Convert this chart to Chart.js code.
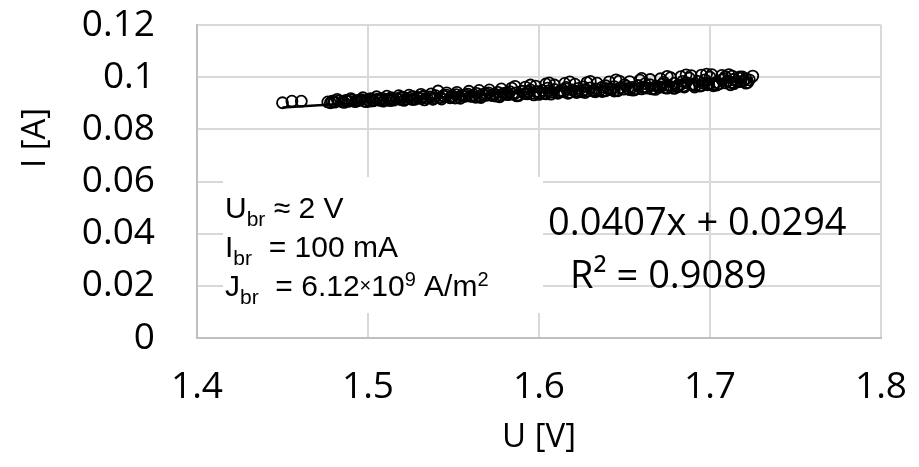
<!DOCTYPE html>
<html>
<head>
<meta charset="utf-8">
<script src="https://cdn.jsdelivr.net/npm/chart.js@4/dist/chart.umd.min.js"></script>
<style>
  html, body { margin: 0; padding: 0; background: #fff; }
  #wrap { width: 919px; height: 467px; }
</style>
</head>
<body>
<div id="wrap"><canvas id="chart" width="919" height="467"></canvas></div>
<script>
// measured points, U [V]
const voltage = [
  1.4500, 1.4555, 1.4610, 1.4765, 1.4790, 1.4805, 1.4830, 1.4850, 1.4870, 1.4885,
  1.4905, 1.4925, 1.4940, 1.4960, 1.4980, 1.5000, 1.5015, 1.5030, 1.5050, 1.5070,
  1.5085, 1.5100, 1.5120, 1.5135, 1.5150, 1.5170, 1.5190, 1.5205, 1.5225, 1.5240,
  1.5260, 1.5275, 1.5290, 1.5310, 1.5325, 1.5345, 1.5360, 1.5380, 1.5395, 1.5410,
  1.5425, 1.5445, 1.5460, 1.5480, 1.5495, 1.5515, 1.5530, 1.5550, 1.5565, 1.5585,
  1.5600, 1.5620, 1.5635, 1.5655, 1.5670, 1.5690, 1.5705, 1.5725, 1.5740, 1.5760,
  1.5775, 1.5795, 1.5810, 1.5830, 1.5845, 1.5865, 1.5880, 1.5900, 1.5915, 1.5935,
  1.5950, 1.5970, 1.5985, 1.6005, 1.6020, 1.6040, 1.6055, 1.6075, 1.6090, 1.6110,
  1.6125, 1.6145, 1.6160, 1.6180, 1.6195, 1.6215, 1.6230, 1.6250, 1.6265, 1.6285,
  1.6300, 1.6320, 1.6335, 1.6355, 1.6370, 1.6390, 1.6405, 1.6425, 1.6440, 1.6460,
  1.6475, 1.6495, 1.6510, 1.6530, 1.6545, 1.6565, 1.6580, 1.6600, 1.6615, 1.6635,
  1.6650, 1.6670, 1.6685, 1.6705, 1.6720, 1.6740, 1.6755, 1.6775, 1.6790, 1.6810,
  1.6825, 1.6845, 1.6860, 1.6880, 1.6895, 1.6915, 1.6930, 1.6950, 1.6965, 1.6985,
  1.7000, 1.7020, 1.7035, 1.7055, 1.7070, 1.7090, 1.7105, 1.7125, 1.7140, 1.7160,
  1.7175, 1.7195, 1.7210, 1.7230, 1.7250,
  1.482, 1.490, 1.497, 1.505, 1.511, 1.518, 1.524, 1.531, 1.537, 1.546,
  1.552, 1.559, 1.565, 1.571, 1.578, 1.584, 1.592, 1.598, 1.604, 1.609,
  1.615, 1.621, 1.628, 1.634, 1.641, 1.647, 1.653, 1.659, 1.665, 1.671,
  1.677, 1.683, 1.689, 1.695, 1.701, 1.707, 1.713, 1.719,
  1.478, 1.486, 1.493, 1.499, 1.503, 1.509, 1.514, 1.521, 1.527, 1.533,
  1.539, 1.543, 1.549, 1.554, 1.561, 1.566, 1.573, 1.577, 1.582, 1.587,
  1.593, 1.597, 1.603, 1.607, 1.612, 1.617, 1.623, 1.627, 1.632, 1.637,
  1.642, 1.646, 1.652, 1.656, 1.661, 1.666, 1.671, 1.675, 1.681, 1.685,
  1.690, 1.694, 1.699, 1.704, 1.709, 1.714, 1.718, 1.722,
  1.586, 1.595, 1.606, 1.618, 1.630, 1.645, 1.660, 1.675, 1.686, 1.698, 1.711,
  1.480, 1.488, 1.495, 1.501, 1.507, 1.513, 1.519, 1.526, 1.532, 1.538,
  1.544, 1.551, 1.557, 1.563, 1.569, 1.575, 1.581, 1.588, 1.594, 1.600,
  1.605, 1.611, 1.616, 1.622, 1.626, 1.633, 1.639, 1.644, 1.650, 1.655,
  1.662, 1.668, 1.673, 1.679, 1.684, 1.691, 1.697, 1.702, 1.708, 1.712,
  1.717, 1.721
];
// measured points, I [A]
const current = [
  0.0902, 0.0908, 0.0908, 0.0905, 0.0908, 0.0904, 0.0909, 0.0906, 0.0911, 0.0907,
  0.0912, 0.0906, 0.0910, 0.0914, 0.0908, 0.0913, 0.0918, 0.0909, 0.0915, 0.0911,
  0.0919, 0.0913, 0.0916, 0.0921, 0.0912, 0.0918, 0.0914, 0.0923, 0.0916, 0.0920,
  0.0926, 0.0915, 0.0922, 0.0918, 0.0927, 0.0920, 0.0924, 0.0917, 0.0929, 0.0947,
  0.0922, 0.0927, 0.0931, 0.0921, 0.0928, 0.0933, 0.0924, 0.0930, 0.0926, 0.0935,
  0.0927, 0.0932, 0.0938, 0.0928, 0.0934, 0.0930, 0.0940, 0.0931, 0.0936, 0.0942,
  0.0932, 0.0938, 0.0934, 0.0944, 0.0935, 0.0940, 0.0929, 0.0946, 0.0937, 0.0942,
  0.0951, 0.0938, 0.0945, 0.0940, 0.0949, 0.0936, 0.0947, 0.0943, 0.0953, 0.0941,
  0.0948, 0.0944, 0.0955, 0.0942, 0.0951, 0.0946, 0.0957, 0.0944, 0.0952, 0.0948,
  0.0959, 0.0946, 0.0955, 0.0950, 0.0962, 0.0948, 0.0956, 0.0952, 0.0964, 0.0950,
  0.0959, 0.0954, 0.0966, 0.0952, 0.0961, 0.0956, 0.0968, 0.0955, 0.0963, 0.0958,
  0.0971, 0.0957, 0.0966, 0.0961, 0.0973, 0.0959, 0.0968, 0.0963, 0.0976, 0.0962,
  0.0970, 0.0966, 0.0979, 0.0996, 0.0973, 0.0968, 0.0984, 0.0967, 0.0976, 0.0971,
  0.1000, 0.0972, 0.0980, 0.0975, 0.0990, 0.1002, 0.0985, 0.0980, 0.0992, 0.0983,
  0.1001, 0.0985, 0.0994, 0.0990, 0.1004,
  0.0915, 0.0918, 0.0921, 0.0925, 0.0927, 0.0929, 0.0931, 0.0934, 0.0936, 0.0940,
  0.0942, 0.0946, 0.0949, 0.0951, 0.0955, 0.0958, 0.0962, 0.0966, 0.0974, 0.0970,
  0.0976, 0.0973, 0.0979, 0.0977, 0.0982, 0.0985, 0.0983, 0.0989, 0.0991, 0.0994,
  0.0998, 0.1002, 0.1006, 0.1008, 0.1010, 0.1007, 0.1004, 0.1001,
  0.0902, 0.0903, 0.0909, 0.0906, 0.0912, 0.0908, 0.0915, 0.0911, 0.0918, 0.0913,
  0.0921, 0.0916, 0.0924, 0.0919, 0.0926, 0.0922, 0.0929, 0.0925, 0.0933, 0.0928,
  0.0936, 0.0932, 0.0939, 0.0935, 0.0943, 0.0938, 0.0946, 0.0941, 0.0950, 0.0945,
  0.0953, 0.0948, 0.0957, 0.0952, 0.0960, 0.0955, 0.0963, 0.0958, 0.0967, 0.0962,
  0.0970, 0.0966, 0.0975, 0.0970, 0.0978, 0.0975, 0.0983, 0.0980,
  0.0965, 0.0970, 0.0978, 0.0982, 0.0984, 0.0990, 0.0995, 0.1003, 0.1009, 0.1012, 0.1010,
  0.0907, 0.0910, 0.0912, 0.0908, 0.0917, 0.0910, 0.0922, 0.0914, 0.0925, 0.0915,
  0.0929, 0.0920, 0.0932, 0.0923, 0.0937, 0.0927, 0.0941, 0.0932, 0.0945, 0.0934,
  0.0958, 0.0938, 0.0961, 0.0941, 0.0963, 0.0944, 0.0967, 0.0947, 0.0971, 0.0950,
  0.0975, 0.0953, 0.0980, 0.0957, 0.0984, 0.0962, 0.0990, 0.0967, 0.0994, 0.0971,
  0.0996, 0.0977
];
// linear trendline end points (0.0407x + 0.0294)
const trendU = [1.45, 1.725];
const trendI = [0.0884, 0.0996];

const xTicks = [1.4, 1.5, 1.6, 1.7, 1.8];
const yTicks = [0, 0.02, 0.04, 0.06, 0.08, 0.1, 0.12];

const TICK_FONT = "'Open Sans', sans-serif";
const NOTE_FONT = "'Liberation Sans', Arial, sans-serif";

// draws a run of text pieces: [text, size, dy]
function drawRuns(ctx, x, y, runs, family) {
  let cx = x;
  runs.forEach(([txt, size, dy]) => {
    ctx.font = size + 'px ' + family;
    ctx.fillText(txt, cx, y + dy);
    cx += ctx.measureText(txt).width;
  });
}

const notes = {
  id: 'notes',
  beforeDatasetsDraw(chart) {
    const ctx = chart.ctx;
    ctx.save();
    ctx.fillStyle = '#ffffff';
    ctx.fillRect(223, 177, 320, 136);
    ctx.restore();
  },
  afterDraw(chart) {
    const ctx = chart.ctx;
    ctx.save();
    ctx.fillStyle = '#000';
    ctx.textBaseline = 'alphabetic';
    ctx.textAlign = 'left';

    drawRuns(ctx, 225, 218, [['U', 30, 0], ['br', 21, 8], [' \u2248 2 V', 30, 0]], NOTE_FONT);
    drawRuns(ctx, 225, 257, [['I', 30, 0], ['br', 21, 8], ['  = 100 mA', 30, 0]], NOTE_FONT);
    drawRuns(ctx, 225, 296, [['J', 30, 0], ['br', 21, 8], ['  = 6.12', 30, 0], ['\u00d7', 20, -4],
      ['10', 30, 0], ['9', 20, -10], [' A/m', 30, 0], ['2', 20, -10]], NOTE_FONT);

    ctx.font = "38px 'Open Sans', sans-serif";
    ctx.fillText('0.0407x + 0.0294', 548, 235);
    ctx.fillText('R\u00b2 = 0.9089', 570, 288);

    // y axis title
    ctx.font = "33px 'Open Sans', sans-serif";
    ctx.translate(36, 138);
    ctx.rotate(-Math.PI / 2);
    ctx.textAlign = 'center';
    ctx.textBaseline = 'middle';
    ctx.fillText('I [A]', 0, 0);
    ctx.restore();
  }
};

new Chart(document.getElementById('chart'), {
  type: 'scatter',
  data: {
    datasets: [
      {
        label: 'I(U)',
        data: voltage.map((u, i) => ({ x: u, y: current[i] })),
        pointRadius: 5.5,
        pointBorderWidth: 1.8,
        borderColor: '#000',
        backgroundColor: 'rgba(0,0,0,0)',
        order: 2
      },
      {
        label: 'Linear',
        type: 'line',
        data: trendU.map((u, i) => ({ x: u, y: trendI[i] })),
        borderColor: '#000',
        borderWidth: 2.5,
        pointRadius: 0,
        fill: false,
        order: 1
      }
    ]
  },
  options: {
    animation: false,
    responsive: false,
    layout: { padding: { top: 25, right: 38, left: 0, bottom: 0 } },
    plugins: {
      legend: { display: false },
      tooltip: { enabled: false }
    },
    scales: {
      x: {
        type: 'linear',
        min: 1.4,
        max: 1.8,
        afterFit: s => { s.height = 129; s.paddingLeft = 0; s.paddingRight = 0; },
        afterBuildTicks: s => { s.ticks = xTicks.map(v => ({ value: v })); },
        grid: { color: '#d9d9d9', lineWidth: 2, drawTicks: false },
        border: { color: '#bfbfbf', width: 2 },
        ticks: {
          autoSkip: false,
          maxRotation: 0,
          padding: 27,
          color: '#000',
          font: { family: TICK_FONT, size: 37 },
          callback: v => v.toFixed(1)
        },
        title: {
          display: true,
          text: 'U [V]',
          color: '#000',
          font: { family: TICK_FONT, size: 33 },
          padding: { top: 0, bottom: 10 }
        }
      },
      y: {
        type: 'linear',
        min: 0,
        max: 0.12,
        afterFit: s => { s.width = 197; s.paddingTop = 0; s.paddingBottom = 0; },
        afterBuildTicks: s => { s.ticks = yTicks.map(v => ({ value: v })); },
        grid: { color: '#d9d9d9', lineWidth: 2, drawTicks: false },
        border: { color: '#bfbfbf', width: 2 },
        ticks: {
          autoSkip: false,
          padding: 42,
          color: '#000',
          font: { family: TICK_FONT, size: 37 },
          callback: v => String(Math.round(v * 100) / 100)
        }
      }
    }
  },
  plugins: [notes]
});
</script>
</body>
</html>
